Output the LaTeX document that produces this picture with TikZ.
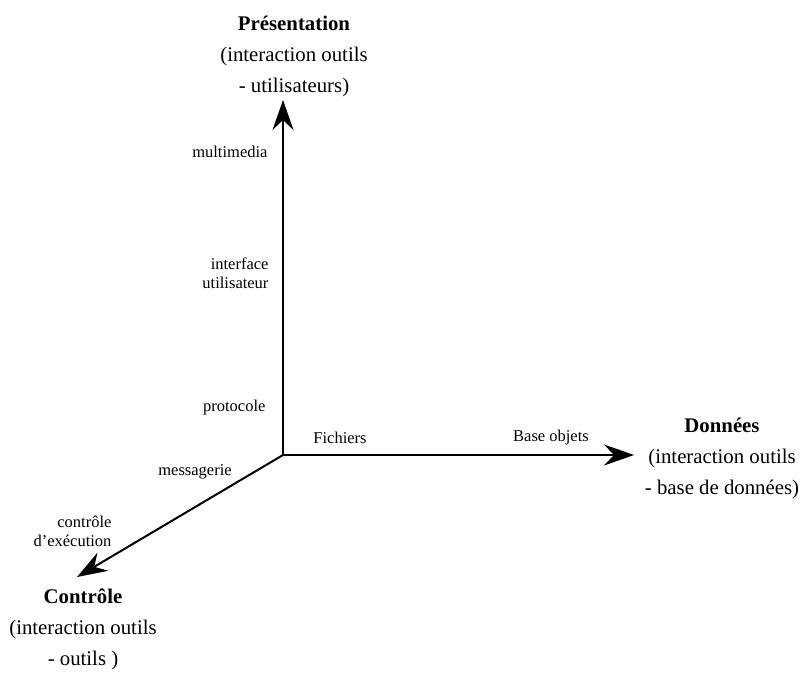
\documentclass[tikz,border=0pt]{standalone}
\usepackage{fontspec}
\setmainfont{Liberation Serif}
\usetikzlibrary{arrows.meta}

\begin{document}
\begin{tikzpicture}[x=1pt, y=1pt,
    axis/.style={line width=2pt, -{Stealth[length=30pt, width=21pt, inset=10pt]}},
    title/.style={align=center, font=\fontsize{20.8}{31}\selectfont},
    tick/.style={font=\fontsize{16.5}{19}\selectfont}]
            % Canvas
            \useasboundingbox (0, 0) rectangle (802, 673);

            % Origin and arrow tips
            \coordinate (O) at (283, 218);
            \coordinate (tipP) at (283, 573);
            \coordinate (tipD) at (634, 218);
            \coordinate (tipC) at (77, 96);

            % Axes
            \draw[axis] (O) -- (tipP);
            \draw[axis] (O) -- (tipD);
            \draw[axis] (O) -- (tipC);

            % Axis titles
            \node[title] (pres) at (294, 617) {\textbf{Présentation}\\(interaction outils\\- utilisateurs)};
            \node[title] (donn) at (722, 215) {\textbf{Données}\\(interaction outils\\- base de données)};
            \node[title] (ctrl) at (83, 44) {\textbf{Contrôle}\\(interaction outils\\- outils )};

            % Labels along the vertical axis
            \node[tick, left] (multi) at (271, 521) {multimedia};
            \node[tick, left, align=right] (iface) at (272, 400) {interface\\utilisateur};
            \node[tick, left] (proto) at (269, 265) {protocole};

            % Labels along the horizontal axis
            \node[tick] (fich) at (340, 235) {Fichiers};
            \node[tick] (base) at (551, 235) {Base objets};

            % Labels along the oblique axis
            \node[tick] (mess) at (195, 201) {messagerie};
            \node[tick, left, align=right] (exec) at (115, 142) {contrôle\\d'exécution};
\end{tikzpicture}
\end{document}
